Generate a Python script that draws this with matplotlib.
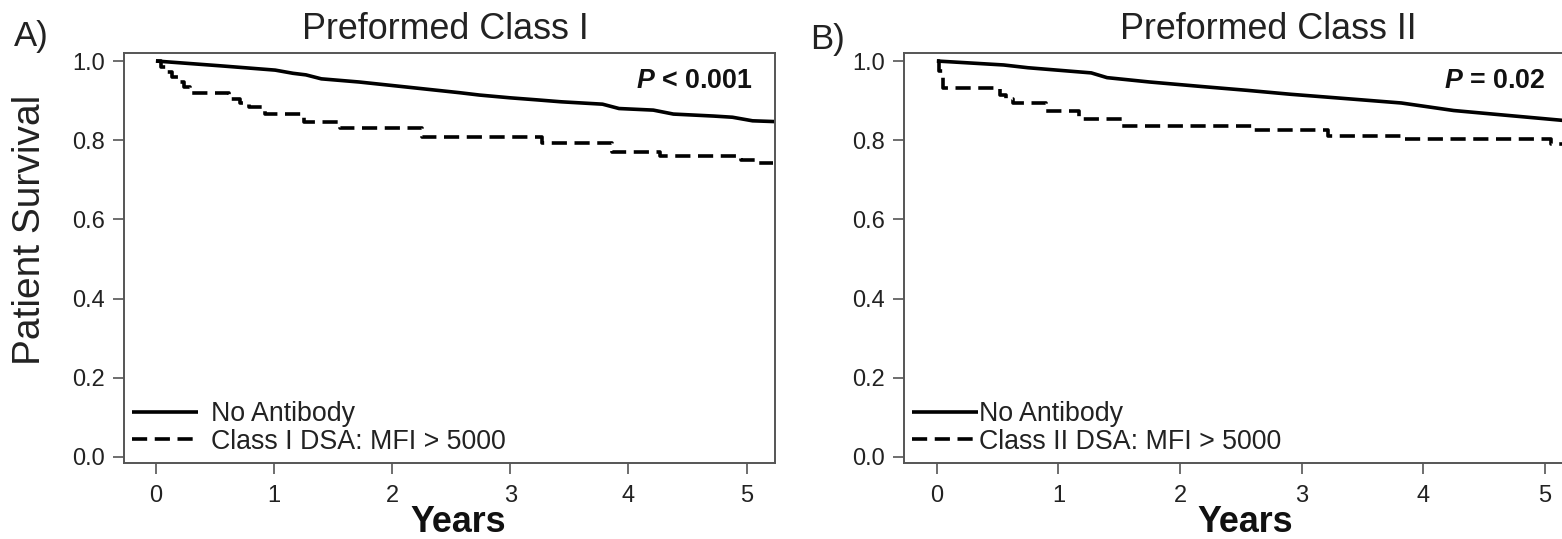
import matplotlib
matplotlib.use('Agg')
import matplotlib.pyplot as plt

plt.rcParams['font.family'] = ['Liberation Sans', 'DejaVu Sans']
plt.rcParams['mathtext.fontset'] = 'custom'
plt.rcParams['mathtext.bfit'] = 'Liberation Sans:italic:bold'
plt.rcParams['mathtext.rm'] = 'Liberation Sans'

# panel A: preformed class I (years, survival)
solid_a_t = [0, 0.54, 1.01, 1.16, 1.27, 1.40, 1.72, 2.13, 2.57, 2.74, 3.0, 3.22,
             3.43, 3.78, 3.92, 4.21, 4.38, 4.72, 4.88, 5.05, 5.24]
solid_a_s = [1.0, 0.988, 0.977, 0.969, 0.965, 0.955, 0.947, 0.934, 0.920, 0.914,
             0.907, 0.902, 0.897, 0.891, 0.880, 0.876, 0.866, 0.861, 0.858, 0.849, 0.847]
dash_a_t = [0, 0.04, 0.09, 0.14, 0.19, 0.24, 0.29, 0.62, 0.71, 0.79, 0.92, 1.25,
            1.56, 2.25, 3.27, 3.86, 4.27, 4.95, 5.07, 5.22]
dash_a_s = [1.0, 0.985, 0.972, 0.960, 0.948, 0.935, 0.918, 0.905, 0.893, 0.884,
            0.867, 0.846, 0.830, 0.808, 0.793, 0.769, 0.760, 0.750, 0.742, 0.742]

# panel B: preformed class II
solid_b_t = [0, 0.55, 0.75, 1.27, 1.40, 1.75, 2.20, 2.55, 2.91, 3.45, 3.82, 4.25, 4.68, 5.15]
solid_b_s = [1.0, 0.990, 0.983, 0.970, 0.958, 0.947, 0.935, 0.926, 0.916, 0.903,
             0.894, 0.875, 0.863, 0.850]
dash_b_t = [0, 0.02, 0.05, 0.52, 0.57, 0.63, 0.90, 1.17, 1.52, 2.60, 3.22, 3.82, 5.05, 5.2]
dash_b_s = [1.0, 0.975, 0.933, 0.915, 0.905, 0.893, 0.874, 0.853, 0.836, 0.825,
            0.811, 0.802, 0.790, 0.790]

x_ticks = [0, 1, 2, 3, 4, 5]
y_ticks = [0.0, 0.2, 0.4, 0.6, 0.8, 1.0]

W, H = 1562, 539
fig = plt.figure(figsize=(W / 100, H / 100), dpi=100)

panels = [
    dict(box=(124, 775), solid=(solid_a_t, solid_a_s), dash=(dash_a_t, dash_a_s),
         title='Preformed Class I', title_x=445, tag='A)', tag_xy=(31, 36),
         lab='Class I DSA: MFI > 5000', p=r'$\mathbfit{P}$ < 0.001', p_x=753,
         years_x=458, htp=0.5),
    dict(box=(904, 1574), solid=(solid_b_t, solid_b_s), dash=(dash_b_t, dash_b_s),
         title='Preformed Class II', title_x=1268, tag='B)', tag_xy=(828, 39),
         lab='Class II DSA: MFI > 5000', p=r'$\mathbfit{P}$ = 0.02', p_x=1545,
         years_x=1245, htp=0.06),
]

top_px, bot_px = 52.7, 462.7
for pn in panels:
    l, r = pn['box']
    ax = fig.add_axes([l / W, 1 - bot_px / H, (r - l) / W, (bot_px - top_px) / H])
    ax.plot(pn['solid'][0], pn['solid'][1], color='black', lw=2.6,
            solid_capstyle='butt', label='No Antibody')
    ax.plot(pn['dash'][0], pn['dash'][1], color='black', lw=2.6,
            drawstyle='steps-post', dashes=(4.2, 2.1), label=pn['lab'])
    ax.set_xlim(-0.27, 5.24)
    ax.set_ylim(-0.0145, 1.021)
    ax.set_xticks(x_ticks)
    ax.set_yticks(y_ticks)
    ax.set_yticklabels(['%.1f' % v for v in y_ticks])
    for s in ax.spines.values():
        s.set_color('#555555')
        s.set_linewidth(1.4)
    ax.tick_params(length=8, width=1.2, color='#555555', labelsize=17,
                   labelcolor='#222222')
    ax.tick_params(axis='x', pad=8)
    ax.tick_params(axis='y', pad=6)
    leg = ax.legend(loc='lower left', frameon=False, fontsize=19.3, handlelength=2.45,
                    handletextpad=pn['htp'], labelspacing=0.05, borderpad=0.1,
                    borderaxespad=0.2)
    for t in leg.get_texts():
        t.set_color('#222222')
    fig.text(pn['p_x'] / W, 1 - 81 / H, pn['p'], ha='right', va='center',
             fontsize=19.3, fontweight='bold', color='#111111')
    fig.text(pn['title_x'] / W, 1 - 39 / H, pn['title'], ha='center', va='baseline',
             fontsize=25.8, color='#222222')
    fig.text(pn['tag_xy'][0] / W, 1 - pn['tag_xy'][1] / H, pn['tag'], ha='center',
             va='center', fontsize=25, color='#222222')
    fig.text(pn['years_x'] / W, 1 - 522 / H, 'Years', ha='center', va='center',
             fontsize=25.8, fontweight='bold', color='#111111')

fig.text(30 / W, 1 - 230 / H, 'Patient Survival', rotation=90, ha='center',
         va='center', fontsize=28, color='#222222')

fig.savefig('out.png', dpi=100)
